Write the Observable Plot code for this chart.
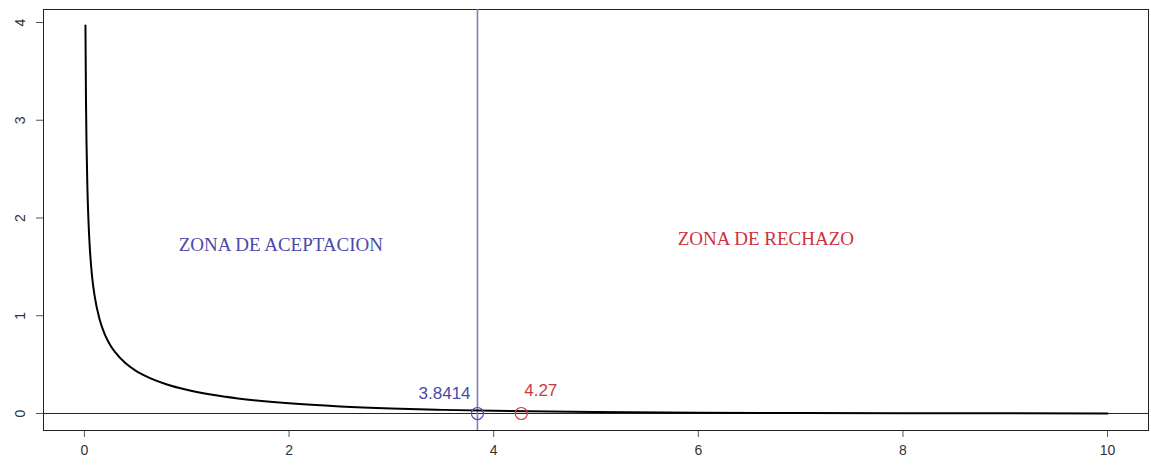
<!DOCTYPE html>
<html>
<head>
<meta charset="utf-8">
<script src="https://cdn.jsdelivr.net/npm/d3@7"></script>
<script src="https://cdn.jsdelivr.net/npm/@observablehq/plot@0.6"></script>
<style>
  html, body { margin: 0; padding: 0; background: #fff; }
  #chart svg { display: block; }
  #chart svg g[aria-label="x-axis tick label"] text,
  #chart svg g[aria-label="y-axis tick label"] text,
  #chart svg g[aria-label="x-axis tick label"],
  #chart svg g[aria-label="y-axis tick label"] { font-size: 14px; fill: #333; }
</style>
</head>
<body>
<div id="chart"></div>
<script>
// Curve values (density curve)
const curveX = [0.01, 0.015, 0.02, 0.03, 0.04, 0.05, 0.075, 0.1, 0.15, 0.2, 0.25, 0.3, 0.4, 0.5, 0.6, 0.8, 1.0, 1.25, 1.5, 2.0, 2.5, 3.0, 3.5, 4.0, 5.0, 6.0, 7.0, 8.0, 9.0, 10.0];
const curveY = [3.97, 3.23, 2.79, 2.27, 1.96, 1.74, 1.40, 1.20, 0.956, 0.807, 0.704, 0.627, 0.516, 0.439, 0.382, 0.299, 0.242, 0.191, 0.154, 0.104, 0.072, 0.051, 0.037, 0.027, 0.015, 0.008, 0.0046, 0.0026, 0.0015, 0.0009];

// Critical value and statistic
const pointX = [3.8414, 4.27];
const pointY = [0, 0];
const pointColors = ["#4a4aa8", "#c83a44"];
const pointLabels = ["3.8414", "4.27"];
const pointLabelX = [3.52, 4.46];
const pointLabelY = [0.20, 0.235];

// Zone labels
const zoneLabels = ["ZONA DE ACEPTACION", "ZONA DE RECHAZO"];
const zoneX = [1.92, 6.66];
const zoneY = [1.72, 1.79];
const zoneColors = ["#4a4aa8", "#d0303c"];

const xTicks = [0, 2, 4, 6, 8, 10];
const yTicks = [0, 1, 2, 3, 4];

const curve = curveX.map((x, i) => ({x, y: curveY[i]}));
const points = pointX.map((x, i) => ({x, y: pointY[i], c: pointColors[i], label: pointLabels[i], lx: pointLabelX[i], ly: pointLabelY[i]}));
const zones = zoneLabels.map((t, i) => ({t, x: zoneX[i], y: zoneY[i], c: zoneColors[i]}));

const chart = Plot.plot({
  width: 1151,
  height: 466,
  marginLeft: 43,
  marginRight: 3,
  marginTop: 9,
  marginBottom: 36,
  style: {fontFamily: "Liberation Sans, Arial, sans-serif", fontSize: "14px", color: "#333", background: "#fff"},
  x: {domain: [-0.4, 10.4]},
  y: {domain: [-0.174, 4.133]},
  marks: [
    Plot.axisX({ticks: xTicks, tickFormat: d => String(d), tickSize: 7, tickPadding: 8, label: null, stroke: "#555"}),
    Plot.axisY({ticks: yTicks, tickFormat: d => String(d), tickSize: 7, tickPadding: 12, tickRotate: -90, label: null, stroke: "#555"}),
    Plot.frame({stroke: "#222", strokeWidth: 1}),
    Plot.ruleY([0], {stroke: "#222", strokeWidth: 1}),
    Plot.ruleX([pointX[0]], {stroke: "#8080b8", strokeWidth: 1.6}),
    Plot.line(curve, {x: "x", y: "y", stroke: "#000", strokeWidth: 2, curve: "monotone-x"}),
    Plot.dot(points, {x: "x", y: "y", r: 6, stroke: "c", fill: "none", strokeWidth: 1.2}),
    Plot.text(points, {x: "lx", y: "ly", text: "label", fill: "c", fontSize: 17, fontFamily: "Liberation Sans, Arial, sans-serif"}),
    Plot.text(zones, {x: "x", y: "y", text: "t", fill: "c", fontSize: 19, fontFamily: "Liberation Serif, Times New Roman, serif"})
  ]
});
document.getElementById("chart").appendChild(chart);
</script>
</body>
</html>
